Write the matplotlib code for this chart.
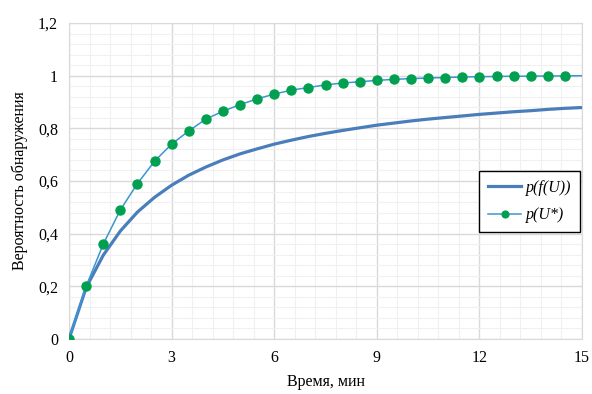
import numpy as np
import matplotlib
matplotlib.use('Agg')
import matplotlib.pyplot as plt
from matplotlib.ticker import MultipleLocator, FuncFormatter

# Time grid (min) and detection probabilities
t = [0, 0.5, 1, 1.5, 2, 2.5, 3, 3.5, 4, 4.5, 5, 5.5, 6, 6.5, 7, 7.5,
     8, 8.5, 9, 9.5, 10, 10.5, 11, 11.5, 12, 12.5, 13, 13.5, 14, 14.5, 15]
p_fU = [0, 0.195, 0.318, 0.41, 0.482, 0.538, 0.584, 0.622, 0.653, 0.68, 0.703,
        0.722, 0.74, 0.755, 0.769, 0.781, 0.792, 0.802, 0.812, 0.82, 0.828,
        0.835, 0.841, 0.847, 0.853, 0.858, 0.863, 0.867, 0.872, 0.876, 0.879]
p_U = [0, 0.2, 0.36, 0.49, 0.59, 0.675, 0.74, 0.79, 0.835, 0.865, 0.89,
       0.912, 0.93, 0.945, 0.955, 0.965, 0.972, 0.977, 0.982, 0.986, 0.989,
       0.991, 0.993, 0.995, 0.996, 0.997, 0.998, 0.998, 0.999, 0.999, 1.0]

plt.rcParams['font.family'] = ['Liberation Serif', 'DejaVu Serif']

fig = plt.figure(figsize=(5.92, 3.94), dpi=100)
ax = fig.add_axes([0.1166, 0.1396, 0.8665, 0.802])

ax.plot(t, p_fU, color='#4A7EBB', lw=2.3, label='p(f(U))', zorder=3)
ax.plot(t, p_U, color='#3A95D5', lw=1.1, marker='o', ms=6.5,
        mfc='#00A050', mec='#00A050', markevery=list(range(len(t) - 1)),
        label='p(U*)', zorder=4)

ax.set_xlim(0, 15)
ax.set_ylim(0, 1.2)
ax.xaxis.set_major_locator(MultipleLocator(3))
ax.xaxis.set_minor_locator(MultipleLocator(0.6))
ax.yaxis.set_major_locator(MultipleLocator(0.2))
ax.yaxis.set_minor_locator(MultipleLocator(0.04))
ax.yaxis.set_major_formatter(FuncFormatter(lambda v, p: ('%g' % round(v, 2)).replace('.', ',')))
ax.grid(which='major', color='#D9D9D9', lw=1.0)
ax.grid(which='minor', color='#F0F0F0', lw=0.8)
ax.set_axisbelow(True)
for s in ax.spines.values():
    s.set_color('#D9D9D9')
ax.tick_params(which='both', length=0, labelsize=11.5, pad=8)

ax.set_xlabel('Время, мин', fontsize=11.5, labelpad=6)
ax.set_ylabel('Вероятность обнаружения', fontsize=11.5, labelpad=7)

leg = ax.legend(loc='center right', bbox_to_anchor=(1.0, 0.435), fontsize=11.5,
                frameon=True, fancybox=False, edgecolor='black',
                handlelength=2.1, handletextpad=0.3, borderpad=0.55,
                labelspacing=0.7, markerscale=0.75, borderaxespad=0.1)
leg.get_frame().set_linewidth(1.0)
leg.get_frame().set_alpha(1)
for txt in leg.get_texts():
    txt.set_fontstyle('italic')

fig.savefig('out.png', dpi=100)
